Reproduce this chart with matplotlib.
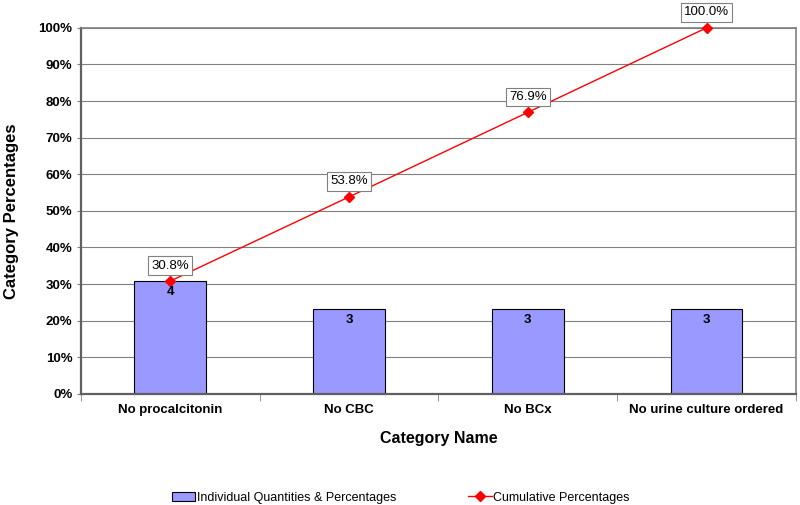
import matplotlib.pyplot as plt
import numpy as np

plt.rcParams['font.family'] = ['Liberation Sans', 'DejaVu Sans']

categories = ["No procalcitonin", "No CBC", "No BCx", "No urine culture ordered"]
counts = [4, 3, 3, 3]
cumulative = [30.8, 53.8, 76.9, 100.0]

total = sum(counts)
pcts = [c / total * 100 for c in counts]
x = np.arange(len(categories))

fig = plt.figure(figsize=(8, 5.05), dpi=100)
ax = fig.add_axes([0.101, 0.22, 0.894, 0.725])

bars = ax.bar(x, pcts, width=0.4, color="#9999ff", edgecolor="black", linewidth=0.8, zorder=2,
              label="Individual Quantities & Percentages")
for xi, p, c in zip(x, pcts, counts):
    ax.text(xi, p - 1.2, str(c), ha="center", va="top", fontsize=9.5, fontweight="bold", zorder=4)

line, = ax.plot(x, cumulative, color="red", linewidth=1, marker="D", markersize=5, zorder=3,
                label="Cumulative Percentages", clip_on=False)
for xi, cv in zip(x, cumulative):
    ax.text(xi, cv + 2.6, f"{cv:.1f}%", ha="center", va="bottom", fontsize=9.5, zorder=5,
            bbox=dict(boxstyle="square,pad=0.25", facecolor="white", edgecolor="#808080", linewidth=0.8))

ax.set_xlim(-0.5, len(categories) - 0.5)
ax.set_ylim(0, 100)
ax.set_yticks(np.arange(0, 101, 10))
ax.set_yticklabels([f"{v}%" for v in range(0, 101, 10)], fontsize=9.5, fontweight="bold")
ax.set_xticks(x)
ax.set_xticklabels(categories, fontsize=9.5, fontweight="bold")
ax.set_xticks(np.arange(-0.5, len(categories), 1), minor=True)
ax.tick_params(axis="x", which="major", length=0, pad=7)
ax.tick_params(axis="x", which="minor", length=5, color="#808080")
ax.tick_params(axis="y", length=3, color="#808080", pad=3)

ax.yaxis.grid(True, color="#808080", linewidth=0.8, zorder=0)
ax.set_axisbelow(True)
for side in ["top", "right"]:
    ax.spines[side].set_color("#808080")
    ax.spines[side].set_linewidth(1.2)
ax.spines["left"].set_color("#606060")
ax.spines["left"].set_linewidth(1.6)
ax.spines["bottom"].set_color("#606060")
ax.spines["bottom"].set_linewidth(1.6)

ax.set_xlabel("Category Name", fontsize=11.5, fontweight="bold", labelpad=11)
ax.set_ylabel("Category Percentages", fontsize=12, fontweight="bold", labelpad=14)

fig.legend(handles=[bars, line], loc="lower center", bbox_to_anchor=(0.501, -0.02), ncol=2,
           frameon=False, fontsize=9, columnspacing=5.8, handlelength=1.9, handletextpad=0.1)

fig.savefig("out.png", dpi=100)
